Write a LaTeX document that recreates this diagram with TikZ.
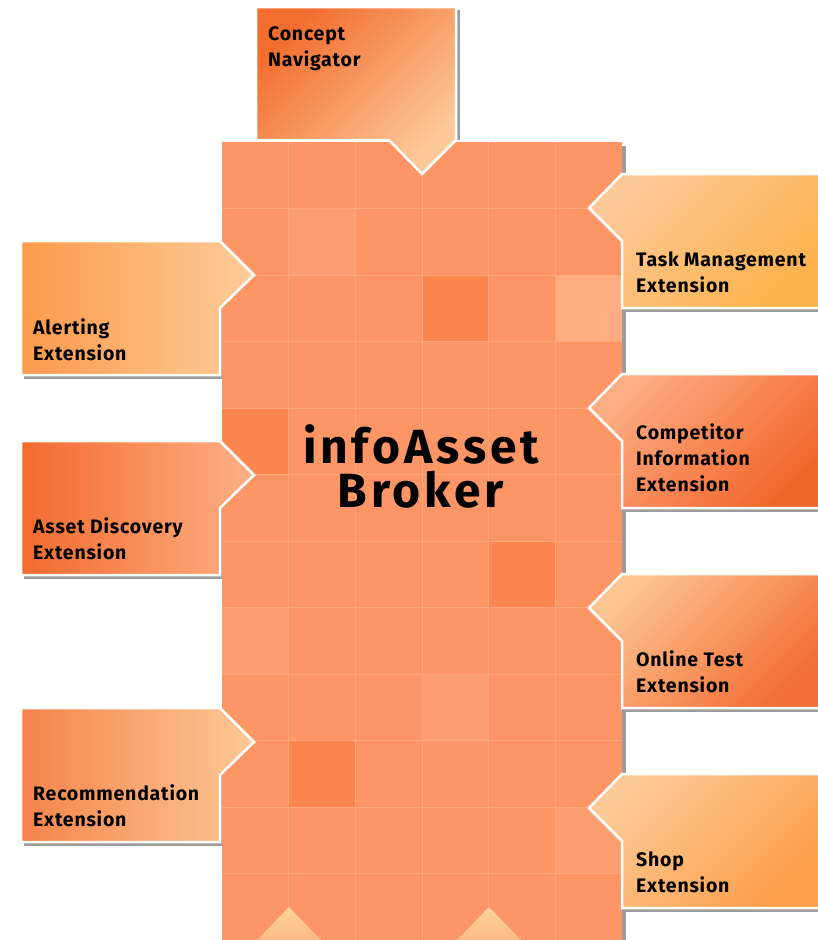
\documentclass[tikz,border=0pt]{standalone}
\usepackage{fontspec}
\setmainfont{Fira Sans}
\newfontfamily\boxfamily[LetterSpace=4]{Fira Sans}
\newfontfamily\brokerfamily[LetterSpace=8]{Fira Sans}
\newcommand{\labelfont}{\boxfamily\bfseries\fontsize{19.5}{26}\selectfont}
\newcommand{\titlefont}{\brokerfamily\bfseries\fontsize{48}{44}\selectfont}

\definecolor{cellbase}{HTML}{FD9566}
\definecolor{celllight}{HTML}{FE9F72}
\definecolor{cellpale}{HTML}{FEAD83}
\definecolor{celldark}{HTML}{FC8550}
\definecolor{cellline}{HTML}{FEA67C}
\definecolor{shadowgray}{HTML}{9C9C9C}
\definecolor{peachtop}{HTML}{FDD49C}
\definecolor{peachbot}{HTML}{FDB886}
\definecolor{conceptdark}{HTML}{F26D2E}
\definecolor{conceptlight}{HTML}{FDC999}
\definecolor{alertleft}{HTML}{FB9A4B}
\definecolor{alertright}{HTML}{FDCD9A}
\definecolor{assetleft}{HTML}{F36A2E}
\definecolor{assetright}{HTML}{FDB185}
\definecolor{recleft}{HTML}{F5844B}
\definecolor{recright}{HTML}{FDC995}
\definecolor{tasklight}{HTML}{FDC999}
\definecolor{taskdark}{HTML}{FDB24C}
\definecolor{complight}{HTML}{FDAD84}
\definecolor{compdark}{HTML}{F2652A}
\definecolor{onlinelight}{HTML}{FDC592}
\definecolor{onlinedark}{HTML}{F36E34}
\definecolor{shoplight}{HTML}{FDCA97}
\definecolor{shopdark}{HTML}{FC9F49}

\begin{document}
\begin{tikzpicture}[
    % One unit is one pixel of the drawing, y runs downwards
    x=1pt, y=-1pt,
    % Define styles for the elements
    shadow_style/.style={fill=shadowgray},
    cell_line/.style={draw=cellline, line width=0.8pt},
    box_style/.style={draw=white, line width=2.5pt, line join=miter},
    label_style/.style={anchor=base west, align=left, inner sep=0pt, font=\labelfont},
    title_style/.style={anchor=base, align=center, inner sep=0pt, font=\titlefont}
  ]

  \useasboundingbox (0,0) rectangle (818,940);

  % --- Step 1: Shadows below everything ---
  \fill[shadow_style] (226,146) rectangle (626,944);
  \fill[shadow_style] (259,10) rectangle (460,140);
  \foreach \ytop in {241,441,708}
    \fill[shadow_style] (24,\ytop+3) rectangle (222,\ytop+138);
  \foreach \ytop in {174,374,574,774}
    \fill[shadow_style] (625,\ytop+3) rectangle (822,\ytop+138);

  % --- Step 2: The broker block, a 6x12 field of cells ---
  \coordinate (block_nw) at (222,142);
  \coordinate (block_se) at (622,942);
  \fill[cellbase] (block_nw) rectangle (block_se);

  % a few cells are lighter or darker than the rest
  \foreach \c/\r/\tone in {1/1/celllight, 3/2/celldark, 5/2/cellpale, 0/4/celldark,
                           4/6/celldark, 0/7/celllight, 3/8/celllight, 1/9/celldark,
                           5/10/celllight}
    \fill[\tone] (222+\c*66.67,142+\r*66.5) rectangle (288.67+\c*66.67,208.5+\r*66.5);

  \foreach \i in {1,...,5}
    \draw[cell_line] (222+\i*66.67,142) -- (222+\i*66.67,942);
  \foreach \j in {1,...,11}
    \draw[cell_line] (222,142+\j*66.5) -- (622,142+\j*66.5);

  % the tips of two more boxes come in from below
  \foreach \xm in {289,489}
    \shade[top color=peachtop, bottom color=peachbot]
      (\xm-34,942) -- (\xm,907) -- (\xm+34,942) -- cycle;

  % --- Step 3: The extension boxes, each pointing at the block ---
  \path[box_style, top color=conceptdark, bottom color=conceptlight, shading angle=45]
    (256,7) -- (456,7) -- (456,140) -- (422,174) -- (389,140) -- (256,140) -- cycle;

  \foreach \ytop/\lc/\rc in {241/alertleft/alertright, 441/assetleft/assetright,
                             708/recleft/recright}
    \path[box_style, left color=\lc, right color=\rc]
      (21,\ytop) -- (220,\ytop) -- (254,\ytop+34) -- (220,\ytop+67)
      -- (220,\ytop+134) -- (21,\ytop+134) -- cycle;

  \foreach \ytop/\lc/\dc in {174/tasklight/taskdark, 374/complight/compdark,
                             574/onlinelight/onlinedark, 774/shoplight/shopdark}
    \path[box_style, top color=\lc, bottom color=\dc, shading angle=45]
      (822,\ytop) -- (622,\ytop) -- (589,\ytop+34) -- (622,\ytop+67)
      -- (622,\ytop+134) -- (822,\ytop+134) -- cycle;

  % --- Step 4: Labels (placed at the baseline of their last line) ---
  \node[label_style] (concept) at (268,66) {Concept\\Navigator};
  \node[label_style] (alerting) at (33,360) {Alerting\\Extension};
  \node[label_style] (asset) at (33,559) {Asset Discovery\\Extension};
  \node[label_style] (recommendation) at (33,826) {Recommendation\\Extension};
  \node[label_style] (task) at (636,292) {Task Management\\Extension};
  \node[label_style] (competitor) at (636,491) {Competitor\\Information\\Extension};
  \node[label_style] (online) at (636,692) {Online Test\\Extension};
  \node[label_style] (shop) at (636,892) {Shop\\Extension};

  \node[title_style] (broker) at (421,507) {infoAsset\\Broker};

\end{tikzpicture}
\end{document}
